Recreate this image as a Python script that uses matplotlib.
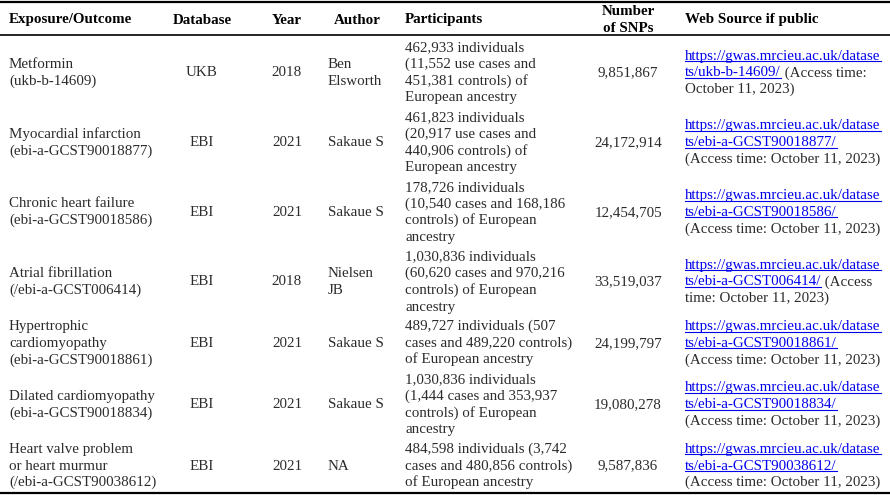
import matplotlib.pyplot as plt

# table contents
exposures = ["Metformin\n(ukb-b-14609)",
             "Myocardial infarction\n(ebi-a-GCST90018877)",
             "Chronic heart failure\n(ebi-a-GCST90018586)",
             "Atrial fibrillation\n(/ebi-a-GCST006414)",
             "Hypertrophic\ncardiomyopathy\n(ebi-a-GCST90018861)",
             "Dilated cardiomyopathy\n(ebi-a-GCST90018834)",
             "Heart valve problem\nor heart murmur\n(/ebi-a-GCST90038612)"]
databases = ["UKB", "EBI", "EBI", "EBI", "EBI", "EBI", "EBI"]
years = ["2018", "2021", "2021", "2018", "2021", "2021", "2021"]
authors = ["Ben\nElsworth", "Sakaue S", "Sakaue S", "Nielsen\nJB", "Sakaue S", "Sakaue S", "NA"]
participants = ["462,933 individuals\n(11,552 use cases and\n451,381 controls) of\nEuropean ancestry",
                "461,823 individuals\n(20,917 use cases and\n440,906 controls) of\nEuropean ancestry",
                "178,726 individuals\n(10,540 cases and 168,186\ncontrols) of European\nancestry",
                "1,030,836 individuals\n(60,620 cases and 970,216\ncontrols) of European\nancestry",
                "489,727 individuals (507\ncases and 489,220 controls)\nof European ancestry",
                "1,030,836 individuals\n(1,444 cases and 353,937\ncontrols) of European\nancestry",
                "484,598 individuals (3,742\ncases and 480,856 controls)\nof European ancestry"]
snps = ["9,851,867", "24,172,914", "12,454,705", "33,519,037", "24,199,797", "19,080,278", "9,587,836"]
web_ids = ["ukb-b-14609", "ebi-a-GCST90018877", "ebi-a-GCST90018586", "ebi-a-GCST006414",
           "ebi-a-GCST90018861", "ebi-a-GCST90018834", "ebi-a-GCST90038612"]
web_inline = [" (Access time:", "", "", " (Access", "", "", ""]
web_after = ["October 11, 2023)", "(Access time: October 11, 2023)", "(Access time: October 11, 2023)",
             "time: October 11, 2023)", "(Access time: October 11, 2023)",
             "(Access time: October 11, 2023)", "(Access time: October 11, 2023)"]

W, H = 890, 495
fig = plt.figure(figsize=(W / 100, H / 100), dpi=100)
ax = fig.add_axes([0, 0, 1, 1])
ax.set_xlim(0, W)
ax.set_ylim(H, 0)
ax.axis('off')

FONT = 'Liberation Serif'
FS = 10.85
LH = 16.7      # line height in px
BASE = 5.0     # baseline offset from line centre
TXT = '#2b2b2b'
LINK = '#0000EE'


def cell(x, yc, s, ha='left', bold=False):
    lines = s.split("\n")
    n = len(lines)
    for i, t in enumerate(lines):
        y = yc + (i - (n - 1) / 2) * LH + BASE
        ax.text(x, y, t, ha=ha, va='baseline', fontsize=FS, family=FONT,
                color='black' if bold else TXT, fontweight='bold' if bold else 'normal')


# rules
ax.plot([0, W], [1.5, 1.5], color='black', lw=1.6)
ax.plot([0, W], [35, 35], color='black', lw=1.2)

# header
hy = 18.5
cell(9, hy, "Exposure/Outcome", bold=True)
cell(202, hy, "Database", ha='center', bold=True)
cell(287, hy, "Year", ha='center', bold=True)
cell(357, hy, "Author", ha='center', bold=True)
cell(405, hy, "Participants", bold=True)
cell(628, hy, "Number\nof SNPs", ha='center', bold=True)
cell(685, hy, "Web Source if public", bold=True)

renderer = fig.canvas.get_renderer()
top = 36.5
for i in range(len(exposures)):
    n = participants[i].count("\n") + 1
    h = n * LH + 2.9
    yc = top + h / 2
    cell(9, yc, exposures[i])
    cell(202, yc, databases[i], ha='center')
    cell(287, yc, years[i], ha='center')
    cell(328, yc, authors[i])
    cell(405, yc, participants[i])
    cell(628, yc, snps[i], ha='center')

    # web source: two link lines + one more line
    link = ["https://gwas.mrcieu.ac.uk/datase", "ts/" + web_ids[i] + "/"]
    for j, t in enumerate(link):
        y = yc + (j - 1) * LH + BASE
        tx = ax.text(685, y, t, ha='left', va='baseline', fontsize=FS, family=FONT, color=LINK)
        wpx = tx.get_window_extent(renderer).width
        ax.plot([685, 685 + wpx], [y + 1.6, y + 1.6], color=LINK, lw=0.8)
        if j == 1 and web_inline[i]:
            ax.text(685 + wpx, y, web_inline[i], ha='left', va='baseline',
                    fontsize=FS, family=FONT, color=TXT)
    ax.text(685, yc + LH + BASE, web_after[i], ha='left', va='baseline',
            fontsize=FS, family=FONT, color=TXT)
    top += h

ax.plot([0, W], [top + 1.5, top + 1.5], color='black', lw=1.6)

fig.savefig('out.png', dpi=100)
